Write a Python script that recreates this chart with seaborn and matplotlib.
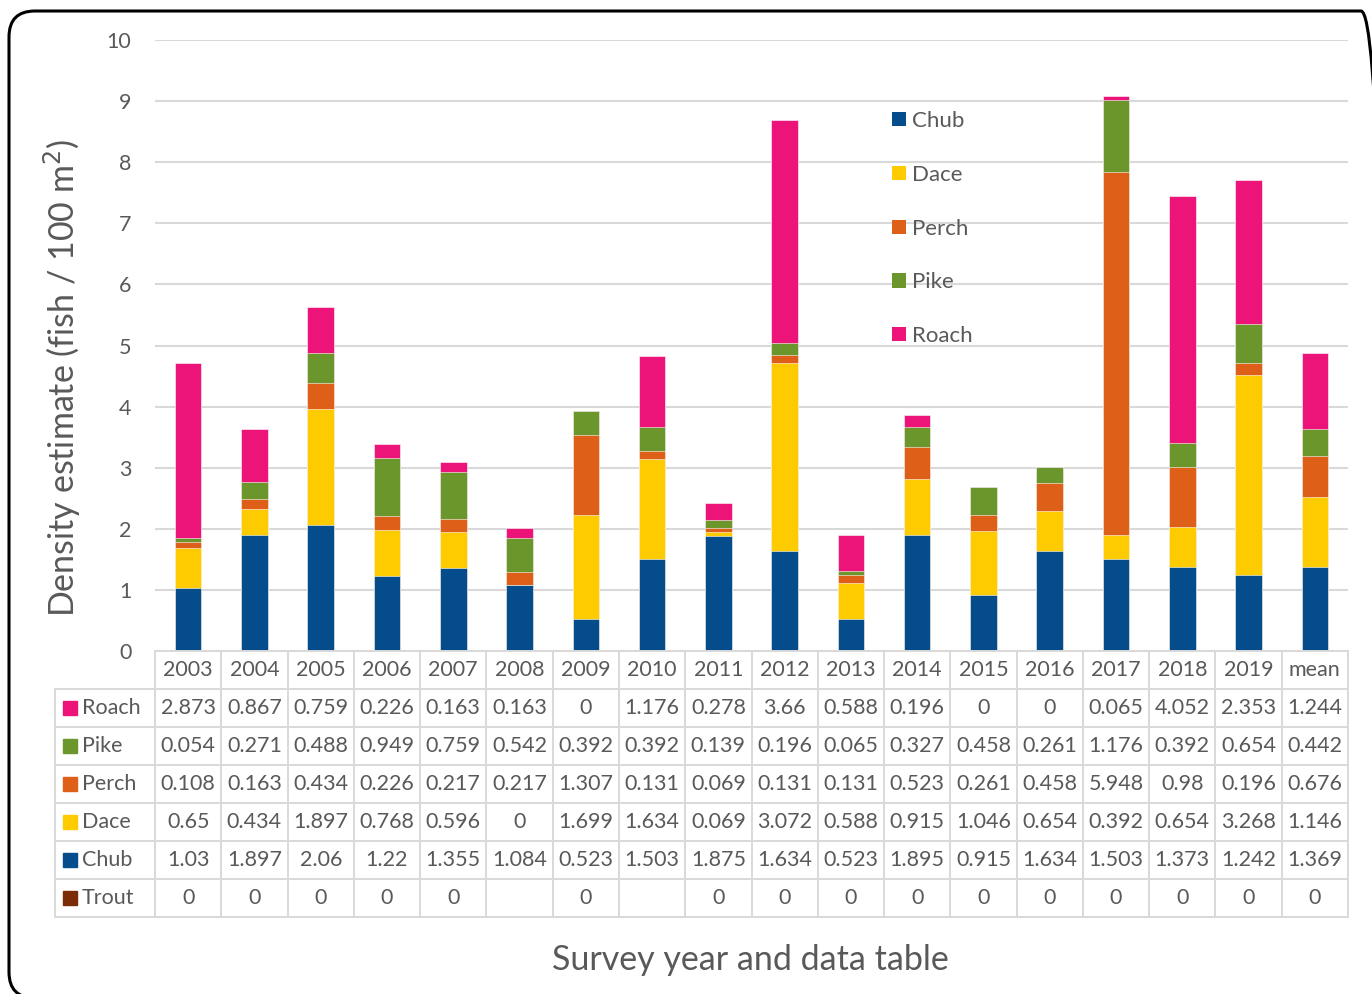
import numpy as np
import pandas as pd
import matplotlib.pyplot as plt
import seaborn as sns
from matplotlib.patches import Patch, FancyBboxPatch, Rectangle

columns = ['2003', '2004', '2005', '2006', '2007', '2008', '2009', '2010', '2011',
           '2012', '2013', '2014', '2015', '2016', '2017', '2018', '2019', 'mean']
roach = [2.873, 0.867, 0.759, 0.226, 0.163, 0.163, 0, 1.176, 0.278,
         3.66, 0.588, 0.196, 0, 0, 0.065, 4.052, 2.353, 1.244]
pike = [0.054, 0.271, 0.488, 0.949, 0.759, 0.542, 0.392, 0.392, 0.139,
        0.196, 0.065, 0.327, 0.458, 0.261, 1.176, 0.392, 0.654, 0.442]
perch = [0.108, 0.163, 0.434, 0.226, 0.217, 0.217, 1.307, 0.131, 0.069,
         0.131, 0.131, 0.523, 0.261, 0.458, 5.948, 0.98, 0.196, 0.676]
dace = [0.65, 0.434, 1.897, 0.768, 0.596, 0, 1.699, 1.634, 0.069,
        3.072, 0.588, 0.915, 1.046, 0.654, 0.392, 0.654, 3.268, 1.146]
chub = [1.03, 1.897, 2.06, 1.22, 1.355, 1.084, 0.523, 1.503, 1.875,
        1.634, 0.523, 1.895, 0.915, 1.634, 1.503, 1.373, 1.242, 1.369]
trout = [0, 0, 0, 0, 0, None, 0, None, 0,
         0, 0, 0, 0, 0, 0, 0, 0, 0]

species = ['Chub', 'Dace', 'Perch', 'Pike', 'Roach', 'Trout']
colors = {'Chub': '#044c8c', 'Dace': '#fecb00', 'Perch': '#de5f18',
          'Pike': '#6b962b', 'Roach': '#ec1479', 'Trout': '#7b2c06'}

df = pd.DataFrame({'col': columns, 'Trout': trout, 'Chub': chub, 'Dace': dace,
                   'Perch': perch, 'Pike': pike, 'Roach': roach})
df['Trout'] = df['Trout'].astype(float)

text_color = '#595959'
grid_color = '#d9d9d9'
plt.rcParams['font.family'] = ['Lato', 'DejaVu Sans']

fig = plt.figure(figsize=(13.72, 9.94), dpi=100)
W, H = 1372, 994

def fig_rect(x0, y0, x1, y1):
    # pixel box (top-left origin) -> figure fraction rect
    return [x0 / W, 1 - y1 / H, (x1 - x0) / W, (y1 - y0) / H]

ax = fig.add_axes(fig_rect(155, 40, 1348, 651))

# stacked bars: draw cumulative totals from top segment down
stack = ['Trout', 'Chub', 'Dace', 'Perch', 'Pike', 'Roach']
cum = df[stack].fillna(0).cumsum(axis=1)
for sp in reversed(stack[1:]):
    sns.barplot(x=df['col'], y=cum[sp], order=columns, color=colors[sp],
                saturation=1, width=0.4, errorbar=None, ax=ax,
                edgecolor='white', linewidth=0.4, zorder=3)

ax.set_ylim(0, 10)
ax.set_xlim(-0.5, len(columns) - 0.5)
ax.set_yticks(range(0, 11))
ax.yaxis.grid(True, color=grid_color, linewidth=1.5, zorder=0)
ax.set_axisbelow(True)
ax.set_xticks([])
ax.set_xlabel('')
ax.set_ylabel('')
for s in ax.spines.values():
    s.set_visible(False)
ax.tick_params(axis='y', length=0, pad=17, labelsize=15.5, labelcolor=text_color)

handles = [Patch(facecolor=colors[s], label=s) for s in species[:5]]
ax.legend(handles=handles, loc='upper left', bbox_to_anchor=(0.6085, 0.902),
          frameon=False, fontsize=16, handlelength=0.62, handleheight=0.62,
          handletextpad=0.3, labelspacing=1.52, borderpad=0,
          labelcolor=text_color)

fig.text(62 / W, 1 - 378 / H, 'Density estimate (fish / 100 m$^2$)', rotation=90,
         ha='center', va='center', fontsize=24.5, color=text_color)
fig.text(750 / W, 1 - 960 / H, 'Survey year and data table', ha='center',
         va='center', fontsize=24.5, color=text_color)

# data table below the plot, sharing the category positions
unit = 1193 / len(columns)
left_edge = -0.5 - 100 / unit
tax = fig.add_axes(fig_rect(55, 651, 1348, 917))
tax.set_xlim(left_edge, len(columns) - 0.5)
tax.set_ylim(7, 0)
tax.axis('off')

lw = 1.4
for k in range(len(columns) + 1):
    tax.plot([k - 0.5, k - 0.5], [0, 7], color=grid_color, lw=lw, clip_on=False)
tax.plot([left_edge, left_edge], [1, 7], color=grid_color, lw=lw, clip_on=False)
tax.plot([-0.5, len(columns) - 0.5], [0, 0], color=grid_color, lw=lw, clip_on=False)
for r in range(1, 8):
    tax.plot([left_edge, len(columns) - 0.5], [r, r], color=grid_color, lw=lw,
             clip_on=False)

fs = 15.5
for i, c in enumerate(columns):
    tax.text(i, 0.5, c, ha='center', va='center', fontsize=fs, color=text_color)

row_order = ['Roach', 'Pike', 'Perch', 'Dace', 'Chub', 'Trout']
sq = 14 / unit
for r, sp in enumerate(row_order, start=1):
    x0 = left_edge + 8 / unit
    tax.add_patch(Rectangle((x0, r + 0.5 - 0.19), sq, 0.38, color=colors[sp],
                            clip_on=False))
    tax.text(x0 + sq + 5 / unit, r + 0.5, sp, ha='left', va='center',
             fontsize=fs, color=text_color)
    for i, v in enumerate(df[sp]):
        if pd.isna(v):
            continue
        tax.text(i, r + 0.5, f'{v:g}', ha='center', va='center',
                 fontsize=fs, color=text_color)

# rounded outer frame
frame = FancyBboxPatch((9, H - 998), 1378, 987,
                       boxstyle='round,pad=0,rounding_size=26',
                       transform=None, facecolor='none', edgecolor='black',
                       linewidth=2.2)
fig.patches.append(frame)

fig.savefig('out.png', dpi=100, facecolor='white')
